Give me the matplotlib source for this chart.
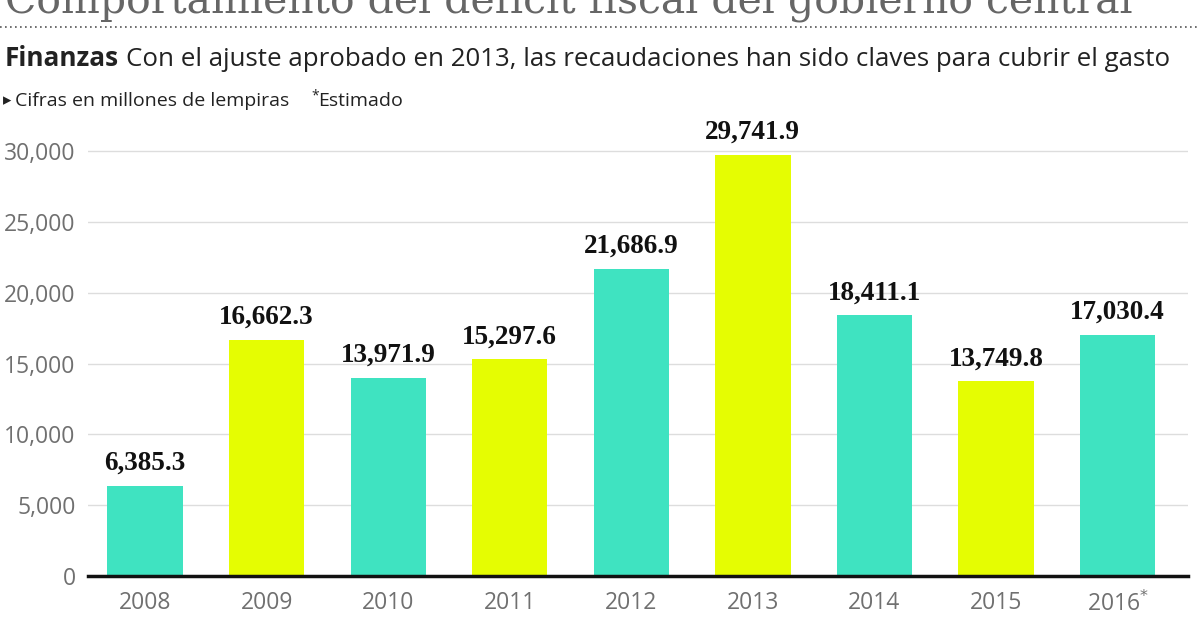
import matplotlib.pyplot as plt
from matplotlib.ticker import FuncFormatter

# Datos del grafico (millones de lempiras)
anios = ['2008', '2009', '2010', '2011', '2012', '2013', '2014', '2015', '2016']
deficit = [6385.3, 16662.3, 13971.9, 15297.6, 21686.9, 29741.9, 18411.1, 13749.8, 17030.4]
etiquetas = ['6,385.3', '16,662.3', '13,971.9', '15,297.6', '21,686.9',
             '29,741.9', '18,411.1', '13,749.8', '17,030.4']
colores = ['#3fe3c1', '#e5fd02'] * 4 + ['#3fe3c1']

fig = plt.figure(figsize=(12, 6.3), dpi=100)
ax = fig.add_axes([88 / 1200, 54 / 630, 1100 / 1200, 425 / 630 * 1.05])

x = list(range(len(anios)))
ax.bar(x, deficit, width=0.62, color=colores, zorder=3)

for xi, v, t in zip(x, deficit, etiquetas):
    ax.text(xi, v + 700, t, ha='center', va='bottom', fontsize=19.5,
            fontweight='bold', family='Liberation Serif', color='#111111')

ax.set_ylim(0, 30000 * 1.05)
ax.set_xlim(-0.47, 8.58)
ax.set_yticks([0, 5000, 10000, 15000, 20000, 25000, 30000])
ax.yaxis.set_major_formatter(FuncFormatter(lambda v, p: f'{int(v):,}'))
ax.set_xticks(x)
ax.set_xticklabels(anios[:-1] + ['2016$^{*}$'])
ax.grid(axis='y', color='#dddddd', linewidth=1, zorder=0)
for s in ['top', 'right', 'left']:
    ax.spines[s].set_visible(False)
ax.spines['bottom'].set_linewidth(2.5)
ax.spines['bottom'].set_color('#111111')
ax.spines['bottom'].set_zorder(4)
ax.tick_params(axis='both', length=0, labelsize=16.5, labelcolor='#707070',
               labelfontfamily='Open Sans')
ax.tick_params(axis='x', pad=11)
ax.tick_params(axis='y', pad=9)

# Titulo cortado en la parte superior
fig.text(5 / 1200, 1 - 13 / 630, 'Comportamiento del déficit fiscal del gobierno central',
         fontsize=29.5, family='DejaVu Serif', color='#666666',
         va='baseline', ha='left')
fig.add_artist(plt.Line2D([0, 1], [1 - 27 / 630] * 2, transform=fig.transFigure,
                          color='#555555', linestyle=(0, (1, 2)), linewidth=1.2))

fig.text(5 / 1200, 1 - 66 / 630, 'Finanzas', fontsize=18.8, fontweight='bold',
         family='Open Sans', color='#222222', va='baseline')
fig.text(126 / 1200, 1 - 66 / 630,
         'Con el ajuste aprobado en 2013, las recaudaciones han sido claves para cubrir el gasto',
         fontsize=18.6, family='Open Sans', color='#222222', va='baseline')
fig.text(3 / 1200, 1 - 105 / 630, '▸', fontsize=12, family='DejaVu Sans',
         color='#222222', va='baseline')
fig.text(15 / 1200, 1 - 106 / 630, 'Cifras en millones de lempiras',
         fontsize=14, family='Open Sans', color='#222222', va='baseline')
fig.text(311 / 1200, 1 - 99 / 630, '*', fontsize=10, family='Open Sans',
         color='#222222', va='baseline')
fig.text(318 / 1200, 1 - 106 / 630, 'Estimado',
         fontsize=14, family='Open Sans', color='#222222', va='baseline')

fig.savefig('out.png', dpi=100)
